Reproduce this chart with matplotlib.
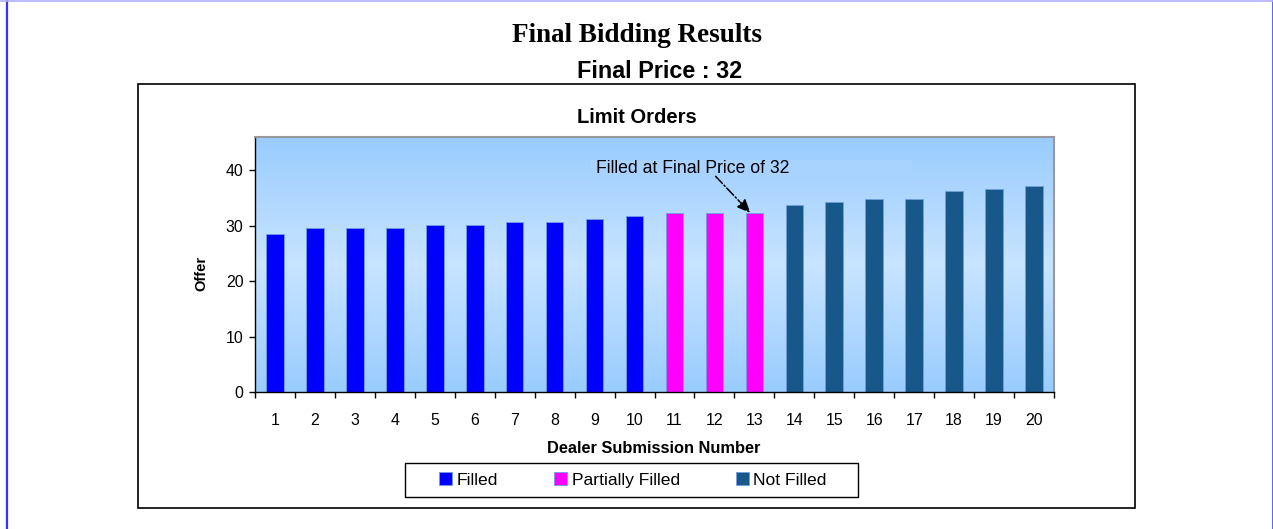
import numpy as np
import matplotlib
matplotlib.use("Agg")
import matplotlib.pyplot as plt
from matplotlib.patches import Rectangle, Patch
from matplotlib.lines import Line2D

# ------------------------------------------------------------
# Data
# ------------------------------------------------------------
dealers = list(range(1, 21))
offers = [28.5, 29.5, 29.5, 29.5, 30.2, 30.2, 30.7, 30.7, 31.2, 31.7,
          32.3, 32.3, 32.3, 33.7, 34.2, 34.9, 34.9, 36.2, 36.7, 37.2]
status = ["Filled"] * 10 + ["Partially Filled"] * 3 + ["Not Filled"] * 7
final_price = 32

status_colors = {
    "Filled": "#0000FF",
    "Partially Filled": "#FF00FF",
    "Not Filled": "#18578A",
}

W, H = 1273, 529


def fx(px):
    return px / W


def fy(py):
    return 1 - py / H


# ------------------------------------------------------------
# Figure / frames
# ------------------------------------------------------------
fig = plt.figure(figsize=(W / 100, H / 100), dpi=100)
fig.patch.set_facecolor("white")

# page border lines
fig.add_artist(Line2D([fx(7), fx(7)], [0, 1], transform=fig.transFigure,
                      color="#3333FF", lw=1.6))
fig.add_artist(Line2D([fx(1272.5), fx(1272.5)], [0, 1], transform=fig.transFigure,
                      color="#4444FF", lw=1.2))
fig.add_artist(Line2D([0, 1], [0.999, 0.999], transform=fig.transFigure,
                      color="#B0B0FF", lw=1.2))

# chart frame
fig.add_artist(Rectangle((fx(138), fy(508)), fx(1135) - fx(138), fy(84) - fy(508),
                         transform=fig.transFigure, fill=False, ec="black", lw=1.2))

sans = "Liberation Sans"
fig.text(fx(636.7), fy(42.3), "Final Bidding Results", ha="center", va="baseline",
         family="Liberation Serif", fontweight="bold", fontsize=19.5)
fig.text(fx(659.7), fy(77.7), f"Final Price : {final_price}", ha="center", va="baseline",
         family=sans, fontweight="bold", fontsize=16.8)
fig.text(fx(636.7), fy(123.3), "Limit Orders", ha="center", va="baseline",
         family=sans, fontweight="bold", fontsize=14.5)

ax = fig.add_axes([fx(255), fy(392), fx(1054) - fx(255), fy(137) - fy(392)])

# gradient background
grad = np.concatenate([np.linspace(0, 1, 128), np.linspace(1, 0, 128)])
top = np.array([0x99, 0xCC, 0xFF]) / 255
mid = np.array([0xC8, 0xE4, 0xFF]) / 255
img = top[None, :] + grad[:, None] * (mid - top)[None, :]
ax.imshow(img[:, None, :], extent=[0, 1, 0, 1], transform=ax.transAxes,
          aspect="auto", zorder=0)

bar_colors = [status_colors[s] for s in status]
ax.bar(dealers, offers, width=0.44, color=bar_colors, edgecolor="#6F9FE0",
       linewidth=0.6, zorder=2)

ax.set_xlim(0.5, 20.5)
ax.set_ylim(0, 46)
ax.set_yticks([0, 10, 20, 30, 40])
ax.set_xticks(dealers)
ax.set_xticks(np.arange(0.5, 21, 1), minor=True)
ax.tick_params(axis="x", which="major", length=0, pad=15, labelsize=11.4)
ax.tick_params(axis="x", which="minor", length=4, direction="out", width=1)
ax.tick_params(axis="y", length=4.3, direction="out", labelsize=11.4, width=1, pad=4)
for lab in ax.get_xticklabels() + ax.get_yticklabels():
    lab.set_family(sans)

for side in ["top", "right"]:
    ax.spines[side].set_color("#999999")
    ax.spines[side].set_linewidth(1.5)
for side in ["left", "bottom"]:
    ax.spines[side].set_color("black")
    ax.spines[side].set_linewidth(1.0)

fig.text(fx(654), fy(452.7), "Dealer Submission Number", ha="center", va="baseline",
         family=sans, fontweight="bold", fontsize=11.8)
fig.text(fx(205), fy(273.5), "Offer", ha="center", va="baseline", rotation=90,
         rotation_mode="anchor", family=sans, fontweight="bold", fontsize=10.5)

# annotation text box and arrow
ax.add_patch(Rectangle((8.9, 38.4), 16.95 - 8.9, 41.9 - 38.4, facecolor="#A8D2FF",
                       edgecolor="none", zorder=3))
ax.text(9.03, (392 - 174) / 5.525, f"Filled at Final Price of {final_price}",
        ha="left", va="baseline", family=sans, fontsize=12.7, zorder=4)
ax.annotate("", xy=(12.9, offers[12]), xytext=(12.03, 38.9),
            arrowprops=dict(arrowstyle="-|>,head_length=0.8,head_width=0.35",
                            linestyle="-.", color="black", lw=1.1,
                            shrinkA=0, shrinkB=0), zorder=5)

# legend (box drawn separately)
fig.add_artist(Rectangle((fx(405), fy(497)), fx(858) - fx(405), fy(463) - fy(497),
                         transform=fig.transFigure, fill=False, ec="black", lw=1.0))
handles = [Patch(facecolor=status_colors[k], edgecolor="#6F9FE0", linewidth=0.6, label=k)
           for k in ["Filled", "Partially Filled", "Not Filled"]]
fig.legend(handles=handles, loc="center", bbox_to_anchor=(fx(633), fy(480)),
           ncol=3, frameon=False, prop={"family": sans, "size": 12.6},
           handlelength=0.75, handleheight=0.75, handletextpad=0.25,
           columnspacing=3.2, borderpad=0, borderaxespad=0)

plt.savefig("out.png", dpi=100)
plt.close()
